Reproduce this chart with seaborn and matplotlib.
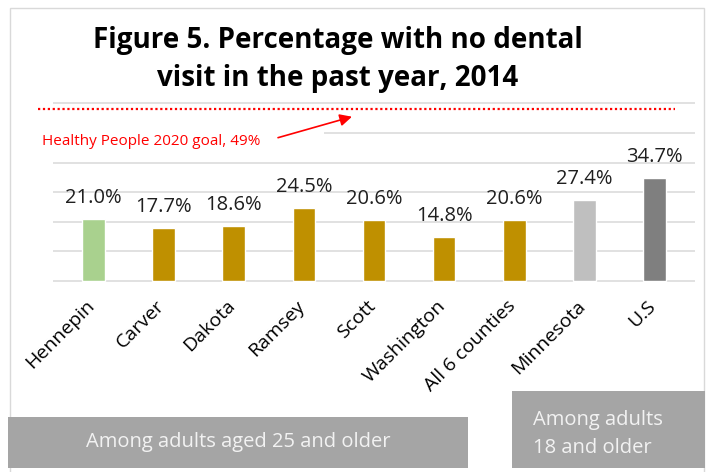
import matplotlib
matplotlib.use("Agg")
import matplotlib.pyplot as plt
import matplotlib.patches as mpatches
import matplotlib.transforms as mtransforms
import pandas as pd
import seaborn as sns

# data
areas = ["Hennepin", "Carver", "Dakota", "Ramsey", "Scott", "Washington",
         "All 6 counties", "Minnesota", "U.S"]
pct = [21.0, 17.7, 18.6, 24.5, 20.6, 14.8, 20.6, 27.4, 34.7]
bar_colors = ["#A9D18E"] + ["#BF9000"] * 6 + ["#BFBFBF", "#7F7F7F"]
y_ticks = [0, 10, 20, 30, 40, 50, 60]
goal_label = "Healthy People 2020 goal, 49%"
title_lines = ["Figure 5. Percentage with no dental", "visit in the past year, 2014"]
note_25 = "Among adults aged 25 and older"
note_18 = ["Among adults", "18 and older"]

W, H = 709, 472
sns.set_theme(style="white")
plt.rcParams["font.family"] = ["Open Sans", "DejaVu Sans"]


def fx(px):
    return px / W


def fy(py):
    return 1 - py / H


fig = plt.figure(figsize=(W / 100, H / 100), dpi=100)
ax_top, ax_bot = 102.0, 282.2
ax = fig.add_axes([fx(53), fy(ax_bot), fx(695) - fx(53), (ax_bot - ax_top) / H])

df = pd.DataFrame({"area": areas, "pct": pct})
sns.barplot(data=df, x="area", y="pct", hue="area", palette=bar_colors,
            width=0.32, saturation=1, legend=False, ax=ax, zorder=3)

ax.set_ylim(-0.5, 60.5)
ax.set_yticks(y_ticks)
ax.set_yticklabels([])
ax.yaxis.grid(True, color="#D9D9D9", lw=1.1)
ax.set_axisbelow(True)
for s in ax.spines.values():
    s.set_visible(False)
ax.set_xlabel("")
ax.set_ylabel("")
ax.tick_params(length=0)
ax.tick_params(axis="x", pad=10.5)
ax.set_xticks(range(len(areas)))
ax.set_xticklabels(areas, rotation=45, ha="right", va="top",
                   rotation_mode="anchor", fontsize=14, color="#000000")
shift = mtransforms.ScaledTranslation(-8 / 100, 0, fig.dpi_scale_trans)
for lab in ax.get_xticklabels():
    lab.set_transform(lab.get_transform() + shift)

# value labels
for p, v in zip(ax.patches, pct):
    ax.annotate(f"{v:.1f}%", (p.get_x() + p.get_width() / 2, v),
                xytext=(0, 11.5), textcoords="offset points",
                ha="center", va="baseline", fontsize=14.5, color="#1F1F1F")

# white box behind goal label hides part of a gridline
ax.add_patch(mpatches.Rectangle((0, 0.80), 0.422, 0.06, transform=ax.transAxes,
                                facecolor="white", edgecolor="none", zorder=1))

# goal line, label and arrow
ax.plot([-0.0234, 0.969], [0.9595, 0.9595], transform=ax.transAxes,
        clip_on=False, color="#FF0000", lw=1.6, linestyle=(0, (1, 1.2)), zorder=4)
ax.text(-0.0171, 0.761, goal_label, transform=ax.transAxes, fontsize=11,
        color="#FF0000", ha="left", va="baseline", zorder=4)
ax.annotate("", xy=(0.4657, 0.9184), xytext=(0.3505, 0.802),
            xycoords="axes fraction", textcoords="axes fraction",
            arrowprops=dict(arrowstyle="-|>", color="#FF0000", lw=1.2,
                            mutation_scale=18, shrinkA=0, shrinkB=0),
            annotation_clip=False)

# title
fig.text(fx(338), fy(48), title_lines[0], ha="center", va="baseline",
         fontsize=20, fontweight="bold", color="#000000")
fig.text(fx(338), fy(86), title_lines[1], ha="center", va="baseline",
         fontsize=20, fontweight="bold", color="#000000")

# chart border
fig.patches.append(mpatches.Rectangle((fx(10), -0.01), fx(704) - fx(10), fy(8) + 0.01,
                                      transform=fig.transFigure, fill=False,
                                      edgecolor="#D9D9D9", lw=1))

# group boxes at the bottom
fig.patches.append(mpatches.Rectangle((fx(8), fy(468)), fx(468) - fx(8), (468 - 417) / H,
                                      transform=fig.transFigure, facecolor="#A5A5A5",
                                      edgecolor="none"))
fig.patches.append(mpatches.Rectangle((fx(512), fy(468)), fx(705) - fx(512), (468 - 391) / H,
                                      transform=fig.transFigure, facecolor="#A5A5A5",
                                      edgecolor="none"))
fig.text(fx(238), fy(442), note_25, ha="center", va="center",
         fontsize=14.5, color="#F2F2F2")
fig.text(fx(533), fy(425), note_18[0], ha="left", va="baseline",
         fontsize=14.5, color="#F2F2F2")
fig.text(fx(533), fy(453), note_18[1], ha="left", va="baseline",
         fontsize=14.5, color="#F2F2F2")

fig.savefig("out.png", dpi=100)
